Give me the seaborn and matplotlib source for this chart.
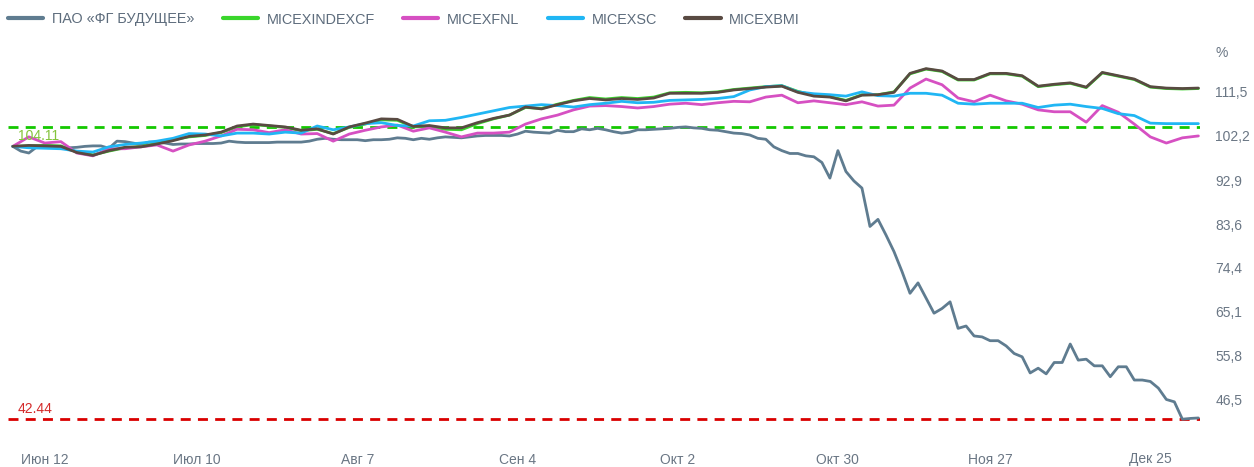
import numpy as np
import pandas as pd
import matplotlib
matplotlib.use("Agg")
import matplotlib.pyplot as plt
from matplotlib.lines import Line2D
import seaborn as sns

# ---------------- data ----------------
# trading calendar (ordinal axis: one slot per trading day)
holidays = ["2023-06-12", "2023-11-06", "2024-01-01", "2024-01-02"]
dates = pd.bdate_range("2023-06-06", "2024-01-04")
dates = dates[~dates.isin(pd.to_datetime(holidays))]

# ПАО «ФГ БУДУЩЕЕ», every trading day (%)
fg_future = [
    100.0, 99.0, 98.6, 99.9, 100.1, 100.0, 99.8, 99.7, 99.8, 100.0, 100.1, 100.1, 99.6,
    101.1, 101.0, 100.7, 100.4, 100.9, 100.9, 100.7, 100.4, 100.5, 100.5,
    100.6, 100.6, 100.6, 100.7, 101.1, 100.9, 100.8, 100.8, 100.8, 100.8,
    100.9, 100.9, 100.9, 100.9,
    101.1, 101.5, 101.7, 101.5, 101.4, 101.4, 101.4, 101.2, 101.4, 101.4,
    101.5, 101.8, 101.7, 101.4, 101.7, 101.5, 101.8, 102.0, 101.9, 101.8,
    102.0, 102.2, 102.3, 102.3, 102.3, 102.2,
    102.6, 103.2, 103.0, 102.9, 102.8, 103.4, 103.1, 103.1, 103.7, 103.5,
    103.8, 103.5, 103.1, 102.8, 103.0, 103.5, 103.5, 103.6, 103.7, 103.8,
    104.0, 104.11, 103.9, 103.8, 103.5, 103.4, 103.1, 102.8, 102.7, 102.4,
    101.7, 101.5, 99.9, 99.1, 98.5, 98.5, 98.0, 97.8, 96.6, 93.3,
    99.1, 94.7, 92.7, 91.2, 83.1, 84.6, 81.3, 77.8, 73.6, 69.0,
    71.2, 68.0, 64.8, 65.8, 67.2, 61.6, 62.1, 60.0, 59.8, 59.0,
    59.0, 57.9, 56.3, 55.6, 52.2, 53.2, 52.0, 54.4, 54.4, 58.3,
    54.9, 55.1, 53.7, 53.7, 51.4, 53.5, 53.5, 50.7, 50.7, 50.4,
    49.0, 46.6, 46.1, 42.44, 42.6, 42.7,
]

# indices, read every second trading day (%)
micex_indexcf = [
    100.0, 100.1, 100.2, 100.1, 98.8, 98.2, 99.0, 99.7, 100.0, 100.6,
    101.4, 102.0, 102.3, 102.9, 104.1, 104.6, 104.3, 104.0, 103.3, 103.6,
    102.7, 104.0, 104.7, 105.6, 105.5, 104.1, 104.2, 103.6, 103.5, 104.8,
    105.8, 106.6, 108.2, 108.0, 108.9, 109.7, 110.3, 110.0, 110.3, 110.1,
    110.4, 111.3, 111.4, 111.3, 111.5, 112.0, 112.3, 112.6, 112.8, 111.6,
    110.8, 110.5, 109.7, 110.9, 110.9, 111.5, 115.3, 116.3, 115.8, 114.0,
    114.0, 115.3, 115.3, 114.8, 112.6, 113.0, 113.3, 112.4, 115.5, 114.8,
    114.1, 112.5, 112.2, 112.1, 112.2,
]
micex_fnl = [
    100.0, 102.0, 100.7, 101.0, 98.6, 98.0, 99.5, 99.5, 99.9, 100.3,
    99.0, 100.3, 101.1, 102.2, 103.6, 103.5, 102.9, 103.5, 102.6, 102.7,
    101.1, 102.6, 103.4, 104.1, 104.5, 103.2, 103.9, 103.0, 102.0, 102.8,
    102.8, 103.0, 104.7, 105.8, 106.6, 107.7, 108.5, 108.6, 108.4, 108.1,
    108.4, 108.9, 109.1, 108.8, 109.2, 109.5, 109.4, 110.4, 110.8, 109.2,
    109.6, 109.2, 108.8, 109.4, 108.5, 108.7, 112.3, 114.2, 113.0, 110.2,
    109.4, 110.8, 109.6, 108.9, 107.7, 107.3, 107.3, 105.1, 108.6, 107.2,
    104.7, 102.0, 100.7, 101.8, 102.2,
]
micex_sc = [
    100.0, 99.7, 99.6, 99.5, 99.0, 98.8, 99.9, 100.4, 100.7, 101.1,
    101.7, 102.7, 102.6, 102.2, 102.8, 102.8, 102.6, 103.0, 102.8, 104.3,
    103.5, 104.1, 104.8, 105.0, 104.4, 104.3, 105.4, 105.5, 106.1, 106.8,
    107.5, 108.2, 108.5, 108.8, 108.6, 108.3, 108.8, 109.1, 109.5, 109.2,
    109.3, 109.7, 109.8, 109.9, 110.1, 110.5, 111.9, 112.6, 112.8, 111.5,
    111.1, 110.9, 110.6, 111.5, 110.7, 110.6, 111.2, 111.2, 110.8, 109.1,
    108.9, 109.1, 109.1, 109.1, 108.2, 108.7, 108.9, 108.4, 108.0, 106.9,
    106.5, 104.9, 104.8, 104.8, 104.8,
]
micex_bmi = [
    100.0, 100.2, 100.1, 100.0, 98.7, 98.1, 99.1, 99.8, 99.9, 100.5,
    101.2, 102.1, 102.4, 103.0, 104.3, 104.7, 104.4, 104.1, 103.4, 103.7,
    102.6, 104.1, 104.9, 105.8, 105.7, 104.2, 104.4, 103.9, 103.9, 105.0,
    105.9, 106.6, 108.3, 107.9, 108.8, 109.6, 110.1, 109.8, 110.1, 109.9,
    110.2, 111.2, 111.2, 111.2, 111.4, 111.9, 112.2, 112.5, 112.7, 111.4,
    110.6, 110.4, 109.6, 110.8, 110.9, 111.4, 115.4, 116.4, 115.9, 114.1,
    114.1, 115.4, 115.4, 114.9, 112.7, 113.1, 113.4, 112.5, 115.6, 114.9,
    114.2, 112.6, 112.3, 112.2, 112.3,
]

series_names = ["ПАО «ФГ БУДУЩЕЕ»", "MICEXINDEXCF", "MICEXFNL", "MICEXSC", "MICEXBMI"]
series_colors = ["#5f7c90", "#3ad62c", "#d650c2", "#20b6f4", "#594a42"]

tick_dates = ["2023-06-12", "2023-07-10", "2023-08-07", "2023-09-04",
              "2023-10-02", "2023-10-30", "2023-11-27", "2023-12-25"]
tick_labels = ["Июн 12", "Июл 10", "Авг 7", "Сен 4", "Окт 2", "Окт 30", "Ноя 27", "Дек 25"]
y_ticks = [46.5, 55.8, 65.1, 74.4, 83.6, 92.9, 102.2, 111.5]
y_tick_labels = ["46,5", "55,8", "65,1", "74,4", "83,6", "92,9", "102,2", "111,5"]

# ---------------- build long table ----------------
pos_all = np.arange(len(dates))
pos_half = pos_all[::2]
frames = [pd.DataFrame({"pos": pos_all, "value": fg_future, "series": series_names[0]})]
for name, vals in zip(series_names[1:], [micex_indexcf, micex_fnl, micex_sc, micex_bmi]):
    frames.append(pd.DataFrame({"pos": pos_half, "value": vals, "series": name}))
df = pd.concat(frames, ignore_index=True)

# ---------------- plot ----------------
sns.set_theme(style="white")
plt.rcParams["font.family"] = ["Liberation Sans", "DejaVu Sans"]
txt_color = "#6a7684"

W, H = 1254, 467
fig = plt.figure(figsize=(W / 100, H / 100), dpi=100)
ax = fig.add_axes([8 / W, 27 / H, 1192 / W, 378 / H])

palette = dict(zip(series_names, series_colors))
sns.lineplot(data=df, x="pos", y="value", hue="series", hue_order=series_names,
             palette=palette, estimator=None, sort=True, linewidth=2.0,
             legend=False, ax=ax)

vmax = max(fg_future)
vmin = min(fg_future)
ax.axhline(vmax, color="#14c800", lw=2.0, dashes=(3.6, 2.6), zorder=1)
ax.axhline(vmin, color="#d90000", lw=2.0, dashes=(3.6, 2.6), zorder=1)
ax.annotate(f"{vmax:.2f}", xy=(0, vmax), xycoords=("axes fraction", "data"),
            xytext=(7, -6.5), textcoords="offset points", va="center", ha="left",
            color="#84c43c", fontsize=10)
ax.annotate(f"{vmin:.2f}", xy=(0, vmin), xycoords=("axes fraction", "data"),
            xytext=(7, 7.5), textcoords="offset points", va="center", ha="left",
            color="#d42a2a", fontsize=10)

ax.set_xlim(-0.6, 148.2)
ax.set_ylim(38.05, 117.8)

tick_pos = np.searchsorted(dates.values, pd.to_datetime(tick_dates).values)
ax.set_xticks(tick_pos)
ax.set_xticklabels(tick_labels)
ax.yaxis.tick_right()
ax.set_yticks(y_ticks)
ax.set_yticklabels(y_tick_labels)
ax.tick_params(axis="x", length=0, pad=9, labelsize=10, labelcolor=txt_color)
ax.tick_params(axis="y", length=0, pad=11, labelsize=10, labelcolor=txt_color)
for lbl in ax.get_yticklabels():
    lbl.set_horizontalalignment("left")
ax.set_xlabel("")
ax.set_ylabel("")
for s in ax.spines.values():
    s.set_visible(False)
ax.grid(False)

fig.text(1215 / W, 1 - 53 / H, "%", ha="left", va="center", fontsize=10, color=txt_color)

handles = [Line2D([0], [0], color=c, lw=3) for c in series_colors]
fig.legend(handles, series_names, loc="center left", bbox_to_anchor=(8 / W, 1 - 19.5 / H),
           ncol=5, frameon=False, fontsize=10.4, handlelength=2.45, handletextpad=0.6,
           columnspacing=1.95, borderpad=0, borderaxespad=0, labelcolor="#5d6c7c")

fig.savefig("out.png", dpi=100, facecolor="white")
